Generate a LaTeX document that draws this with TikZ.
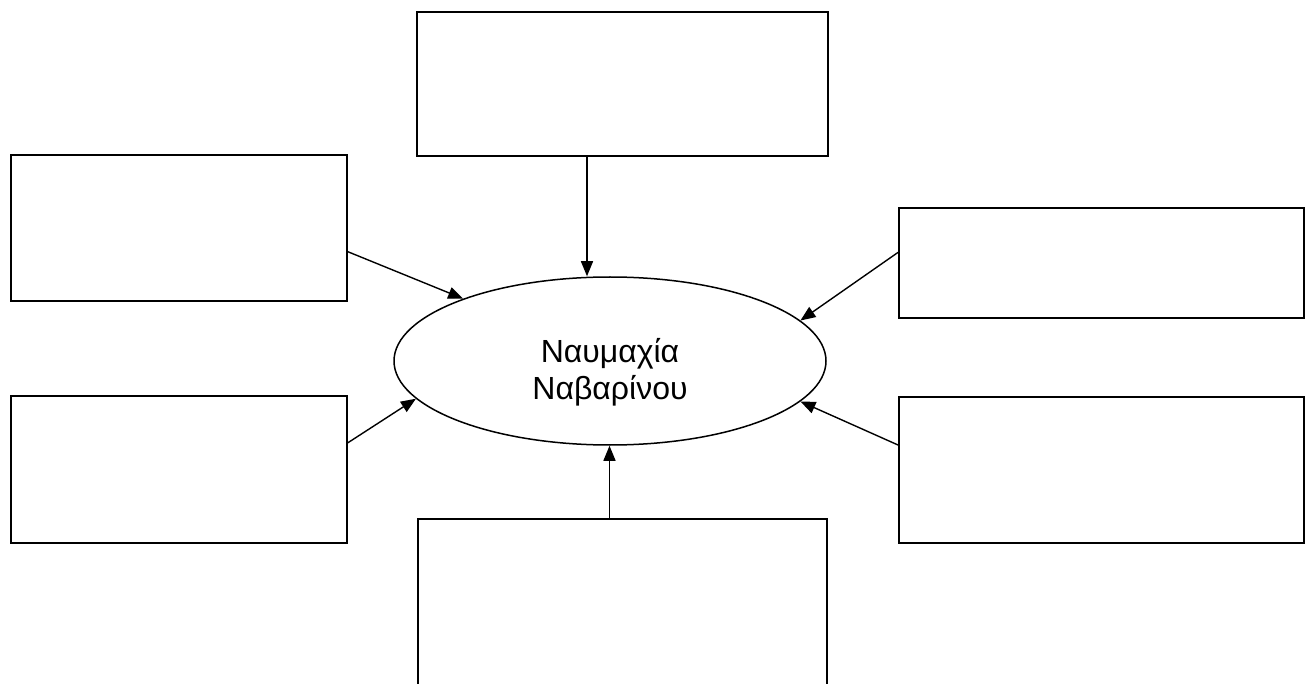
\documentclass[tikz,border=0pt]{standalone}
\usepackage{fontspec}
\setmainfont{Liberation Sans}
\usetikzlibrary{arrows.meta,shapes.geometric}
\begin{document}
\begin{tikzpicture}[x=1pt,y=-1pt,
  box/.style={draw=black,line width=1.8pt,rectangle,inner sep=0pt},
  oval/.style={draw=black,line width=1.5pt,ellipse,inner sep=0pt,minimum width=432pt,minimum height=168pt},
  arr/.style={line width=1.4pt,-{Triangle[length=15pt,width=12pt]}},
  lbl/.style={font=\fontsize{32}{37}\selectfont,align=center,inner sep=0pt}]
\clip (0,0) rectangle (1314,684);
\fill[white] (0,0) rectangle (1314,684);
\node[box,minimum width=411pt,minimum height=144pt] (T) at (622.5,84) {};
\node[box,minimum width=336pt,minimum height=146pt] (LT) at (179,228) {};
\node[box,minimum width=405pt,minimum height=110pt] (RT) at (1101.5,263) {};
\node[box,minimum width=336pt,minimum height=147pt] (LB) at (179,469.5) {};
\node[box,minimum width=405pt,minimum height=146pt] (RB) at (1101.5,470) {};
\node[box,minimum width=409pt,minimum height=200pt] (B) at (622.5,619) {};
\node[oval] (E) at (610,361) {};
\node[lbl] (L) at (610,372) {Ναυμαχία\\Ναβαρίνου};
\draw[arr] ([xshift=-35.5pt]T.south) -- ([xshift=-35.5pt]T.south |- E.north);
\draw[arr] ([xshift=-13pt]B.north) -- ([xshift=-13pt]B.north |- E.south);
\draw[arr] (LT.-8.5) -- (E.157.3);
\draw[arr] (LB.9) -- (E.191.4);
\draw[arr] (RT.177.7) -- (E.12.7);
\draw[arr] (RB.173.2) -- (E.-12.8);
\end{tikzpicture}
\end{document}
